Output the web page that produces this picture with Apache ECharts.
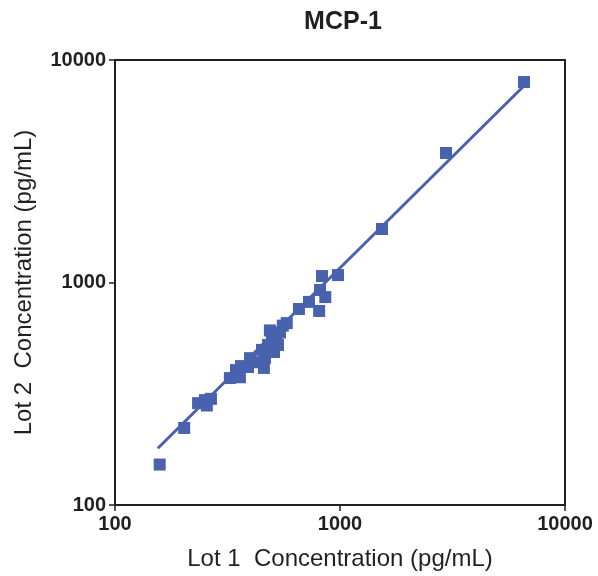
<!DOCTYPE html>
<html>
<head>
<meta charset="utf-8">
<script src="https://cdn.jsdelivr.net/npm/echarts@6/dist/echarts.min.js"></script>
<style>html,body{margin:0;padding:0;background:#fff}#c{width:598px;height:576px}</style>
</head>
<body>
<div id="c"></div>
<script>
var lot1 = [158, 203, 234, 251, 267, 256, 324, 345, 363, 359, 390, 398, 423, 450, 459, 479, 464, 498, 488, 541, 530, 557, 509, 520, 657, 728, 808, 860, 815, 832, 980, 580, 1537, 2958, 6575];
var lot2 = [152, 222, 287, 296, 300, 280, 372, 404, 421, 375, 417, 457, 438, 498, 413, 524, 457, 563, 609, 596, 524, 640, 487, 553, 760, 818, 745, 860, 925, 1069, 1080, 657, 1740, 3820, 7960];
var fitX = [155, 6700];
var fitY = [180, 7800];
var tickLabels = ['100', '1000', '10000'];

var pts = lot1.map(function (v, i) { return [v, lot2[i]]; });
var fit = fitX.map(function (v, i) { return [v, fitY[i]]; });
var blue = '#4862AD';
var ink = '#231f20';

function fmt(v) {
  var k = Math.round(Math.log10(v)) - 2;
  return tickLabels[k] !== undefined ? tickLabels[k] : '';
}

var axisCommon = {
  type: 'log', logBase: 10, min: 100, max: 10000,
  axisLine: { show: true, lineStyle: { color: ink, width: 2 } },
  axisTick: { show: true, length: 6, lineStyle: { color: ink, width: 1.5 } },
  minorTick: { show: false },
  splitLine: { show: false },
  axisLabel: { color: ink, fontFamily: 'Liberation Sans, Arial', fontWeight: 'bold', fontSize: 20, formatter: fmt, margin: 9 },
  nameLocation: 'middle',
  nameTextStyle: { color: ink, fontFamily: 'Liberation Sans, Arial', fontSize: 24 }
};

var chart = echarts.init(document.getElementById('c'));
chart.setOption({
  animation: false,
  title: {
    text: 'MCP-1', left: 338, top: 5, textAlign: 'center',
    textStyle: { color: ink, fontFamily: 'Liberation Sans, Arial', fontWeight: 'bold', fontSize: 25 }
  },
  grid: { left: 115, right: 33, top: 60, bottom: 71, show: true, borderColor: ink, borderWidth: 2, backgroundColor: 'transparent' },
  xAxis: Object.assign({}, axisCommon, {
    name: 'Lot 1  Concentration (pg/mL)', nameGap: 42
  }),
  yAxis: Object.assign({}, axisCommon, {
    name: 'Lot 2  Concentration (pg/mL)', nameGap: 79,
    nameTextStyle: Object.assign({}, axisCommon.nameTextStyle, { padding: [0, 0, 0, 0] })
  }),
  series: [
    { type: 'line', data: fit, symbol: 'none', lineStyle: { color: blue, width: 3 }, z: 1 },
    { type: 'scatter', data: pts, symbol: 'rect', symbolSize: 12, itemStyle: { color: blue, opacity: 1 }, z: 2 }
  ]
});
</script>
</body>
</html>
